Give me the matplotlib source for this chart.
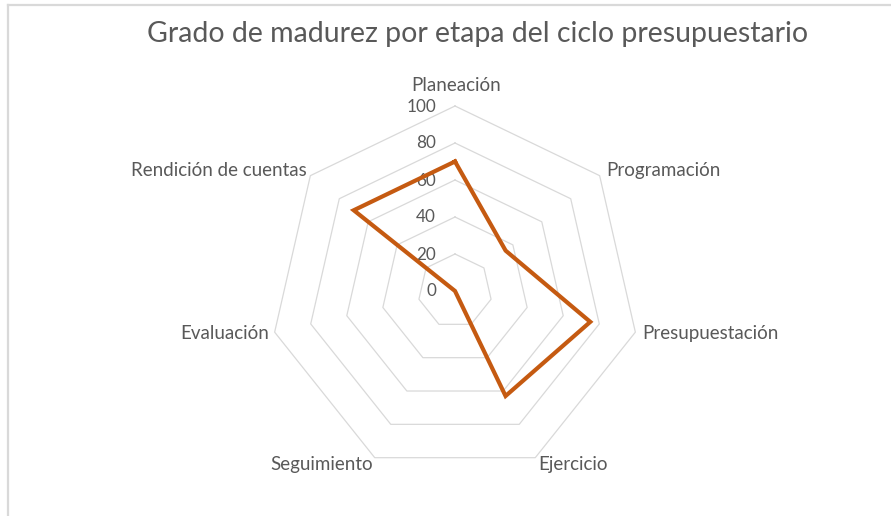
import numpy as np
import matplotlib.pyplot as plt
from matplotlib.lines import Line2D

categories = ["Planeación", "Programación", "Presupuestación", "Ejercicio",
              "Seguimiento", "Evaluación", "Rendición de cuentas"]
values = [70, 35, 75, 63, 0, 0, 70]
rings = [20, 40, 60, 80, 100]
tick_labels = ["0", "20", "40", "60", "80", "100"]

plt.rcParams['font.family'] = ['Lato', 'DejaVu Sans']
text_color = '#595959'
grid_color = '#D9D9D9'
line_color = '#C55A11'

W, H = 891, 516
cx, cy = 455, 291       # centre in pixels
scale = 1.85            # pixels per unit

fig = plt.figure(figsize=(W / 100, H / 100), dpi=100)
ax = fig.add_axes([0, 0, 1, 1])
ax.set_xlim(-cx / scale, (W - cx) / scale)
ax.set_ylim(-(H - cy) / scale, cy / scale)
ax.axis('off')

n = len(categories)
theta = np.arange(n) * 2 * np.pi / n
sx, sy = np.sin(theta), np.cos(theta)


def closed(r):
    x, y = r * sx, r * sy
    return np.append(x, x[0]), np.append(y, y[0])


# heptagon gridlines
for r in rings:
    ax.plot(*closed(r), color=grid_color, lw=0.9, zorder=1)

# data series
ax.plot(*closed(np.array(values, dtype=float)), color=line_color, lw=3,
        solid_joinstyle='miter', zorder=3)

# radial tick labels
for i, lab in enumerate(tick_labels):
    ax.annotate(lab, (0, i * 20), xytext=(-19, -5.5), textcoords='offset pixels',
                ha='right', va='baseline', fontsize=12.3, color=text_color, zorder=2)

# category labels: offsets (pixels) from the outer vertex to the text baseline
label_offsets = [(1, 15, 'center'), (7, 0, 'left'), (6.5, -7, 'left'),
                 (2.5, -12.3, 'left'), (-1.5, -12.3, 'right'),
                 (-5.5, -7, 'right'), (-4, 0, 'right')]
for name, s, c, (dx, dy, ha) in zip(categories, sx, sy, label_offsets):
    ax.annotate(name, (100 * s, 100 * c), xytext=(dx, dy),
                textcoords='offset pixels', ha=ha, va='baseline',
                fontsize=13.5, color=text_color)

fig.text(477.5 / W, 1 - 41.7 / H, "Grado de madurez por etapa del ciclo presupuestario",
         ha='center', va='baseline', fontsize=20.5, color=text_color)

# chart frame (top and left edges visible)
fig.add_artist(Line2D([8 / W, 1], [1 - 5 / H, 1 - 5 / H], color=grid_color, lw=1.6))
fig.add_artist(Line2D([8 / W, 8 / W], [0, 1 - 5 / H], color=grid_color, lw=1.6))

fig.savefig('out.png', dpi=100)
